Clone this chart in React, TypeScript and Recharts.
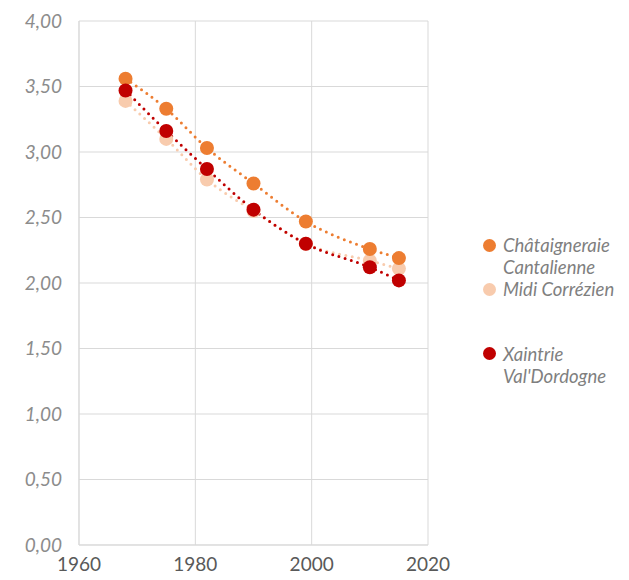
import { ComposedChart, Line, XAxis, YAxis, CartesianGrid, Legend } from 'recharts';

// years of the census points
const years = [1968, 1975, 1982, 1990, 1999, 2010, 2015];

// average household size per territory
const chataigneraie = [3.56, 3.33, 3.03, 2.76, 2.47, 2.26, 2.19];
const midiCorrezien = [3.39, 3.10, 2.79, 2.55, 2.30, 2.17, 2.11];
const xaintrie = [3.47, 3.16, 2.87, 2.56, 2.30, 2.12, 2.02];

const xTicks = [1960, 1980, 2000, 2020];
const yTicks = [0, 0.5, 1, 1.5, 2, 2.5, 3, 3.5, 4];

const series = [
  { key: 'chat', label: ['Châtaigneraie', 'Cantalienne'], color: '#ED7D31' },
  { key: 'midi', label: ['Midi Corrézien'], color: '#F8CBAD' },
  { key: 'xain', label: ['Xaintrie', "Val'Dordogne"], color: '#C00000' },
];

const data = years.map((year, i) => ({
  year,
  chat: chataigneraie[i],
  midi: midiCorrezien[i],
  xain: xaintrie[i],
}));

// draw order: light series first so the darker dots sit on top
const drawOrder = ['midi', 'chat', 'xain'];

const FONT = 'Lato, sans-serif';

const LegendBox = () => (
  <div style={{ width: 201, paddingLeft: 55, boxSizing: 'border-box', fontFamily: FONT, fontStyle: 'italic', fontSize: 18.5, color: '#7f7f7f' }}>
    {series.map((s, i) => (
      <div key={s.key} style={{ display: 'flex', alignItems: 'flex-start', marginTop: i === 2 ? 42 : 0 }}>
        <span style={{ width: 13, height: 13, borderRadius: '50%', background: s.color, marginTop: 4.5, marginRight: 7, flexShrink: 0 }} />
        <span style={{ lineHeight: '22.2px', whiteSpace: 'nowrap' }}>
          {s.label.map((l) => (
            <div key={l}>{l}</div>
          ))}
        </span>
      </div>
    ))}
  </div>
);

export default function App() {
  const colorOf = (k: string) => series.find((s) => s.key === k)!.color;
  return (
    <div style={{ position: 'absolute', left: 0, top: 0, width: 629, height: 580, background: '#fff' }}>
      <ComposedChart width={629} height={580} data={data} margin={{ top: 21, right: 0, bottom: 0, left: 0 }}>
        <CartesianGrid stroke="#d9d9d9" strokeWidth={1} />
        <XAxis
          type="number"
          dataKey="year"
          domain={[1960, 2020]}
          ticks={xTicks}
          tickLine={false}
          tickSize={0}
          tickMargin={13}
          height={35}
          axisLine={{ stroke: '#d9d9d9' }}
          tick={{ fill: '#595959', fontSize: 19, fontFamily: FONT }}
        />
        <YAxis
          type="number"
          domain={[0, 4]}
          ticks={yTicks}
          width={79}
          tickLine={false}
          tickSize={0}
          tickMargin={17}
          axisLine={{ stroke: '#d9d9d9' }}
          tickFormatter={(v: number) => v.toFixed(2).replace('.', ',')}
          tick={{ fill: '#8c8c8c', fontSize: 19, fontFamily: FONT, fontStyle: 'italic' }}
        />
        <Legend
          layout="vertical"
          align="right"
          verticalAlign="top"
          wrapperStyle={{ top: 234, right: 0 }}
          content={() => <LegendBox />}
        />
        {drawOrder.map((k) => (
          <Line
            key={k + '-trend'}
            type="monotone"
            dataKey={k}
            stroke={colorOf(k)}
            strokeWidth={3}
            strokeDasharray="0 6.5"
            strokeLinecap="round"
            dot={false}
            activeDot={false}
            isAnimationActive={false}
          />
        ))}
        {drawOrder.map((k) => (
          <Line
            key={k + '-dots'}
            type="monotone"
            dataKey={k}
            stroke="none"
            dot={{ r: 7, fill: colorOf(k), stroke: 'none' }}
            activeDot={false}
            isAnimationActive={false}
          />
        ))}
      </ComposedChart>
    </div>
  );
}
